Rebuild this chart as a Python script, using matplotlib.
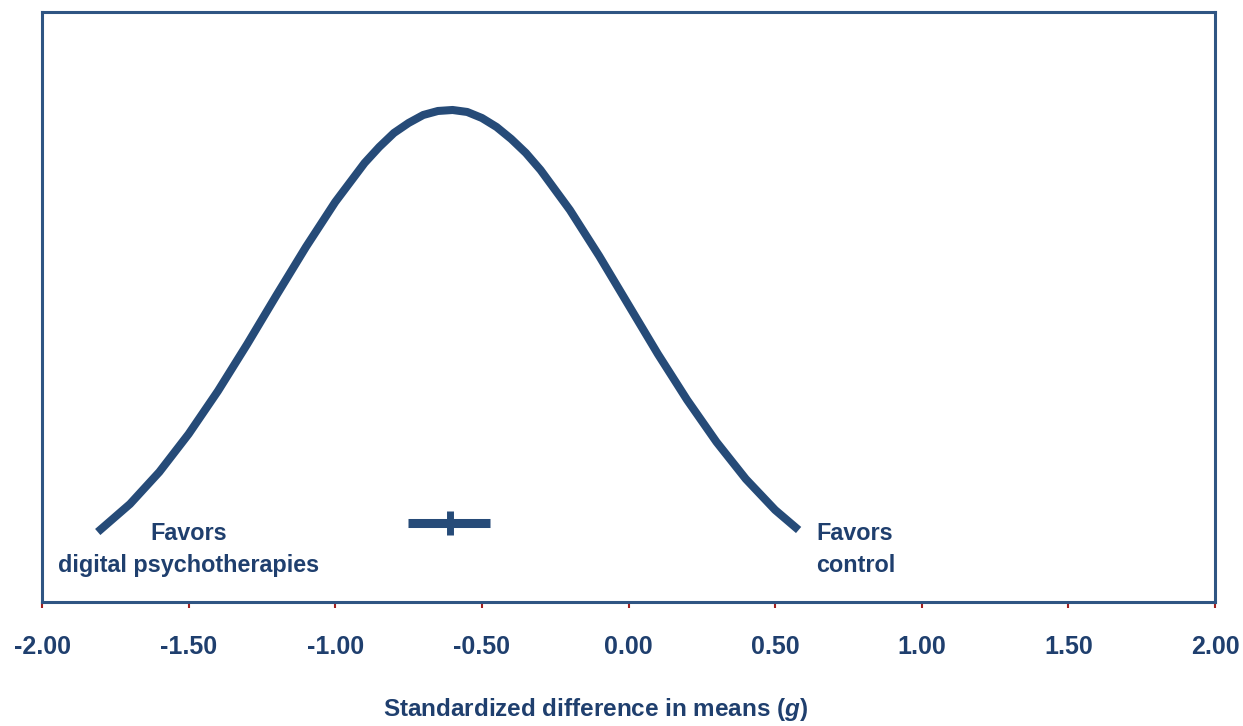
import numpy as np
from matplotlib import pyplot as plt

plt.rcParams['font.family'] = ['Liberation Sans Narrow', 'Liberation Sans', 'DejaVu Sans']
plt.rcParams['mathtext.fontset'] = 'custom'
plt.rcParams['mathtext.it'] = 'Liberation Sans:italic:bold'
plt.rcParams['mathtext.rm'] = 'Liberation Sans:bold'

# curve: effect size (g) vs relative height
curve_x = [-1.81, -1.7, -1.6, -1.5, -1.4, -1.3, -1.2, -1.1, -1.0, -0.9,
           -0.85, -0.8, -0.75, -0.7, -0.65, -0.6, -0.55, -0.5, -0.45, -0.4,
           -0.35, -0.3, -0.2, -0.1, 0.0, 0.1, 0.2, 0.3, 0.4, 0.5, 0.58]
curve_h = [70, 98, 130, 168, 211, 258, 307, 355, 400, 439,
           455, 469, 479, 487, 491, 492, 490, 484, 475, 463,
           449, 432, 392, 346, 297, 248, 202, 160, 123, 92, 72]

# pooled estimate and its confidence interval
point_est = -0.61
ci_low = -0.752
ci_high = -0.472
marker_h = 79

xticks = [-2.0, -1.5, -1.0, -0.5, 0.0, 0.5, 1.0, 1.5, 2.0]
xtick_labels = ['-2.00', '-1.50', '-1.00', '-0.50', '0.00', '0.50', '1.00', '1.50', '2.00']

blue = '#264b78'
text_blue = '#1f3f6e'
frame_blue = '#2f5583'

fig = plt.figure(figsize=(12.43, 7.26), dpi=100)
ax = fig.add_axes([0.0338, 0.1708, 0.9437, 0.8127])

ax.plot(curve_x, curve_h, color=blue, lw=5.8, solid_capstyle='butt',
        solid_joinstyle='round')

# confidence interval bar and point tick
ax.plot([ci_low, ci_high], [marker_h, marker_h], color=blue, lw=6.5,
        solid_capstyle='butt')
ax.plot([point_est, point_est], [marker_h - 12, marker_h + 12], color=blue,
        lw=5, solid_capstyle='butt')

ax.set_xlim(-2, 2)
ax.set_ylim(0, 590)
ax.set_yticks([])
ax.set_xticks(xticks)
ax.set_xticklabels(xtick_labels, fontsize=18, fontweight='bold', color=text_blue)
ax.tick_params(axis='x', length=4, width=1.5, color='#a02020', pad=20)

for s in ax.spines.values():
    s.set_color(frame_blue)
    s.set_linewidth(2.2)

ax.text(-1.50, 80, 'Favors\ndigital psychotherapies', ha='center', va='top',
        fontsize=16.8, fontweight='bold', color=text_blue, linespacing=1.5)
ax.text(0.64, 80, 'Favors\ncontrol', ha='left', va='top',
        fontsize=16.8, fontweight='bold', color=text_blue, linespacing=1.5)

fig.text(0.479, 0.004, r'Standardized difference in means ($\mathit{g}$)',
         ha='center', va='bottom', fontsize=17.5, fontweight='bold', color=text_blue)

fig.savefig('out.png', dpi=100)
